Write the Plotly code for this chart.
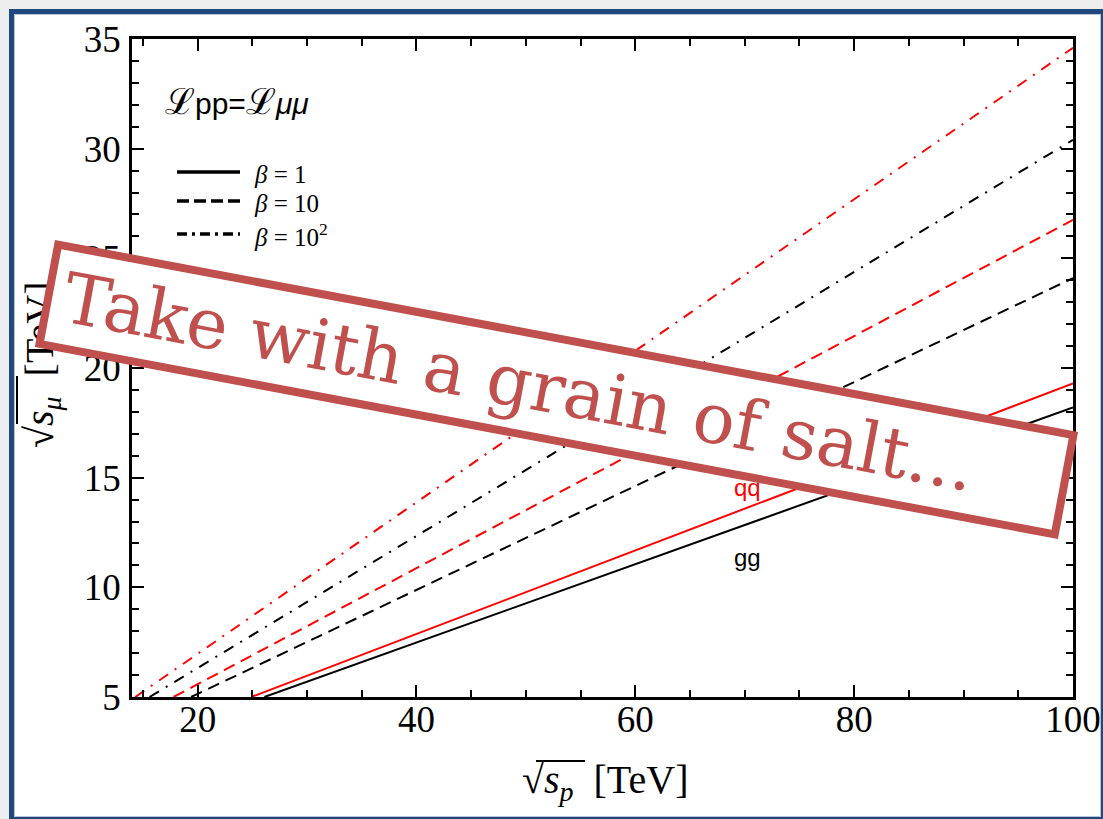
import plotly.graph_objects as go

# Equal-luminosity curves: sqrt(s_mu) needed to match a pp collider of energy sqrt(s_p)
# Each series: [sqrt(s_p) where the curve enters at 5 TeV, 100 TeV] and the matching sqrt(s_mu)
sp_gg_b1 = [26.1, 100.0]
smu_gg_b1 = [5.0, 18.2]
sp_qq_b1 = [24.9, 100.0]
smu_qq_b1 = [5.0, 19.3]
sp_gg_b10 = [19.4, 100.0]
smu_gg_b10 = [5.0, 24.1]
sp_qq_b10 = [17.8, 100.0]
smu_qq_b10 = [5.0, 26.75]
sp_gg_b100 = [15.6, 100.0]
smu_gg_b100 = [5.0, 30.4]
sp_qq_b100 = [14.3, 100.0]
smu_qq_b100 = [5.0, 34.6]

x_ticks = [20, 40, 60, 80, 100]
y_ticks = [5, 10, 15, 20, 25, 30, 35]
beta_labels = ["<i>β</i>\u2005=\u20051", "<i>β</i>\u2005=\u200510", "<i>β</i>\u2005=\u200510<sup>2</sup>"]
channel_labels = ["qq", "gg"]
stamp_text = "\u2006Take with a grain of salt..."

W, H = 1103, 819
ML, MR, MT, MB = 132, 30, 39, 122
PW, PH = W - ML - MR, H - MT - MB


def px(X):
    return (X - ML) / PW


def py(Y):
    return (H - MB - Y) / PH


RED = "#ff0000"
BLACK = "#000000"
STAMP = "#c0504d"
DASH = "12px,7px"
DASHDOT = "11px,8px,2px,8px"

fig = go.Figure()
series = [
    (sp_gg_b1, smu_gg_b1, BLACK, "solid"),
    (sp_qq_b1, smu_qq_b1, RED, "solid"),
    (sp_gg_b10, smu_gg_b10, BLACK, DASH),
    (sp_qq_b10, smu_qq_b10, RED, DASH),
    (sp_gg_b100, smu_gg_b100, BLACK, DASHDOT),
    (sp_qq_b100, smu_qq_b100, RED, DASHDOT),
]
for xs, ys, col, dash in series:
    fig.add_trace(go.Scatter(x=xs, y=ys, mode="lines",
                             line=dict(color=col, width=2, dash=dash),
                             showlegend=False, hoverinfo="skip"))

axis_common = dict(
    showgrid=False, zeroline=False, showline=True, linecolor="black", linewidth=2.5,
    mirror="ticks", ticks="inside", ticklen=12, tickwidth=2, tickcolor="black",
    tickfont=dict(family="Liberation Serif", size=37, color="black"),
)
fig.update_xaxes(range=[14, 100], tickvals=x_ticks, ticktext=[str(v) for v in x_ticks],
                 ticklabelstandoff=-12,
                 minor=dict(ticks="inside", ticklen=7, tickwidth=2, tickcolor="black", dtick=5, tick0=0),
                 **axis_common)
fig.update_yaxes(range=[5, 35], tickvals=y_ticks, ticktext=[str(v) for v in y_ticks],
                 ticklabelstandoff=1,
                 minor=dict(ticks="inside", ticklen=7, tickwidth=2, tickcolor="black", dtick=1, tick0=0),
                 **axis_common)

shapes = []
# slide frame
shapes.append(dict(type="rect", xref="paper", yref="paper", layer="below",
                   x0=px(11.5), x1=px(1103.5), y0=py(11.5), y1=py(819.5),
                   line=dict(color="#1f497d", width=5), fillcolor="white"))
shapes.append(dict(type="rect", xref="paper", yref="paper", layer="below",
                   x0=px(14.5), x1=px(1100.5), y0=py(14.5), y1=py(816.5),
                   line=dict(color="#b9c5d6", width=1), fillcolor="rgba(0,0,0,0)"))
# legend line samples
for yy, dash in [(172, "solid"), (201, "12px,5px"), (234, "10px,5px,3px,5px")]:
    shapes.append(dict(type="line", xref="paper", yref="paper", layer="above",
                       x0=px(177), x1=px(240), y0=py(yy), y1=py(yy),
                       line=dict(color="black", width=3.5, dash=dash)))
# radical bars
shapes.append(dict(type="line", xref="paper", yref="paper", layer="above",
                   x0=px(536), x1=px(585), y0=py(761), y1=py(761),
                   line=dict(color="black", width=2)))
shapes.append(dict(type="line", xref="paper", yref="paper", layer="above",
                   x0=px(17), x1=px(17), y0=py(376), y1=py(424),
                   line=dict(color="black", width=2)))

ann = []
ann.append(dict(xref="paper", yref="paper", x=px(163), y=py(101), xanchor="left", yanchor="middle",
                showarrow=False,
                text='<span style="font-family:DejaVu Serif;font-size:36px">ℒ</span>pp=<span style="font-family:DejaVu Serif;font-size:36px">ℒ</span><i>μμ</i>',
                font=dict(family="Liberation Sans", size=30, color="black")))
for yy, lab in zip([174, 203, 235], beta_labels):
    ann.append(dict(xref="paper", yref="paper", x=px(252), y=py(yy), xanchor="left", yanchor="middle",
                    showarrow=False, text=lab,
                    font=dict(family="Liberation Serif", size=25, color="black")))
ann.append(dict(xref="paper", yref="paper", x=px(747), y=py(487), xanchor="center", yanchor="middle",
                showarrow=False, text=channel_labels[0],
                font=dict(family="Liberation Sans", size=24, color=RED)))
ann.append(dict(xref="paper", yref="paper", x=px(747), y=py(557), xanchor="center", yanchor="middle",
                showarrow=False, text=channel_labels[1],
                font=dict(family="Liberation Sans", size=24, color=BLACK)))
ann.append(dict(xref="paper", yref="paper", x=px(605), y=py(782), xanchor="center", yanchor="middle",
                showarrow=False, text="√<i>s<sub>p</sub></i>\u2002[TeV]",
                font=dict(family="Liberation Serif", size=40, color="black")))
ann.append(dict(xref="paper", yref="paper", x=px(42), y=py(365), xanchor="center", yanchor="middle",
                showarrow=False, textangle=-90, text="√<i>s<sub>μ</sub></i>\u2002[TeV]",
                font=dict(family="Liberation Serif", size=40, color="black")))
# stamp
ann.append(dict(xref="paper", yref="paper", x=px(556.5), y=py(389.3), xanchor="center", yanchor="middle",
                showarrow=False, textangle=10.63, text=stamp_text, align="left", valign="middle",
                width=1025, height=93, borderwidth=8, borderpad=0,
                bordercolor=STAMP, bgcolor="white",
                font=dict(family="DejaVu Serif", size=70, color=STAMP)))

fig.update_layout(
    width=W, height=H, margin=dict(l=ML, r=MR, t=MT, b=MB, autoexpand=False),
    paper_bgcolor="#eeeeee", plot_bgcolor="rgba(0,0,0,0)",
    shapes=shapes, annotations=ann, showlegend=False,
)
fig.write_html("out.html", config={"displayModeBar": False})
